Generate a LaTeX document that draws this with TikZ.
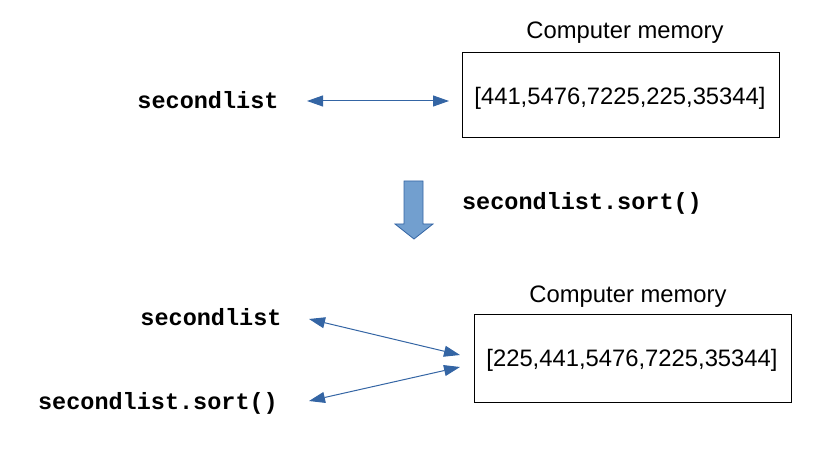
\documentclass[tikz,border=0pt]{standalone}
\usepackage{fontspec}
\setmainfont{Liberation Sans}
\setmonofont{Liberation Mono}
\usetikzlibrary{arrows.meta}
\definecolor{lblue}{HTML}{3465A4}
\definecolor{lfill}{HTML}{729FCF}
\begin{document}
\begin{tikzpicture}[x=1bp,y=-1bp,
  memtxt/.style={font=\fontsize{23.8bp}{28bp}\selectfont, inner sep=0},
  codetxt/.style={font=\fontsize{23.5bp}{28bp}\selectfont\ttfamily\bfseries, inner sep=0},
  membox/.style={draw=black, line width=1bp, inner sep=0},
  link/.style={draw=lblue, line width=1bp, {Triangle[length=16bp,width=11bp]}-{Triangle[length=16bp,width=11bp]}}
]
\useasboundingbox (0,0) rectangle (833,469);
% top
\node[membox, minimum width=317bp, minimum height=85bp] (box1) at (620.5,95.5) {};
\node[memtxt] (val1) at (620,98) {[441,5476,7225,225,35344]};
\node[memtxt] (cm1) at (625,33) {Computer memory};
\node[codetxt] (sl1) at (208,100) {secondlist};
\coordinate (a1s) at (307,101);
\coordinate (a1e) at (449,101);
\draw[link] (a1s) -- (a1e);
% block arrow
\draw[draw=lblue, fill=lfill, line width=0.8bp] (404,181) -- (423,181) -- (423,224) -- (433,224) -- (414,239) -- (395,224) -- (404,224) -- cycle;
\node[codetxt] (sort1) at (582,203) {secondlist.sort()};
% bottom
\node[membox, minimum width=317bp, minimum height=87bp] (box2) at (632.5,358.5) {};
\node[memtxt] (val2) at (632,360) {[225,441,5476,7225,35344]};
\node[memtxt] (cm2) at (628,297) {Computer memory};
\node[codetxt] (sl2) at (211,317) {secondlist};
\node[codetxt] (sort2) at (158,403) {secondlist.sort()};
\coordinate (b1s) at (309,319);
\coordinate (b1e) at (460,355);
\coordinate (b2s) at (309,401);
\coordinate (b2e) at (460,367);
\draw[link] (b1s) -- (b1e);
\draw[link] (b2s) -- (b2e);
\end{tikzpicture}
\end{document}
